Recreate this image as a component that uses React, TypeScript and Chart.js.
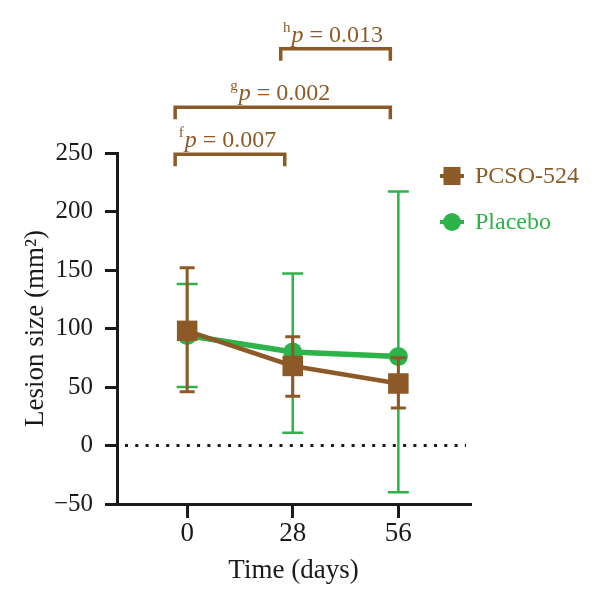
import React, { useEffect, useRef } from "react";
import { Chart, registerables } from "chart.js";
Chart.register(...registerables);

// ---- data ----
const days = [0, 28, 56];
const yTicks = [-50, 0, 50, 100, 150, 200, 250];
const seriesNames = ["PCSO-524", "Placebo"];
const pcsoMean = [98, 68, 53];
const pcsoUpper = [152, 93, 75];
const pcsoLower = [46, 42, 32];
const placeboMean = [94, 80, 76];
const placeboUpper = [138, 147, 217];
const placeboLower = [50, 11, -40];
const bracketFrom = [0, 0, 28];
const bracketTo = [28, 56, 56];
const bracketLevel = [249, 289, 339];
const bracketMarks = ["f", "g", "h"];
const bracketP = ["0.007", "0.002", "0.013"];

const BROWN = "#8c5a26";
const GREEN = "#2db34a";
const INK = "#1a1a1a";
const FONT = '"Liberation Serif", "DejaVu Serif", serif';

const errorBarPlugin = {
  id: "errorBars",
  beforeDatasetDraw(chart: any, args: any) {
    const ds: any = chart.data.datasets[args.index];
    const ys = chart.scales.y;
    const ctx = chart.ctx;
    ctx.save();
    ctx.strokeStyle = ds.borderColor;
    ctx.lineWidth = ds.errWidth;
    const cap = ds.capHalf;
    args.meta.data.forEach((pt: any, i: number) => {
      const x = pt.x;
      const yl = ys.getPixelForValue(ds.errLow[i]);
      const yh = ys.getPixelForValue(ds.errHigh[i]);
      ctx.beginPath();
      ctx.moveTo(x, yl);
      ctx.lineTo(x, yh);
      ctx.moveTo(x - cap, yl);
      ctx.lineTo(x + cap, yl);
      ctx.moveTo(x - cap, yh);
      ctx.lineTo(x + cap, yh);
      ctx.stroke();
    });
    ctx.restore();
  },
};

const decorPlugin = {
  id: "decor",
  beforeDatasetsDraw(chart: any) {
    const { ctx, chartArea } = chart;
    const y0 = chart.scales.y.getPixelForValue(0);
    ctx.save();
    ctx.strokeStyle = INK;
    ctx.lineWidth = 3;
    ctx.setLineDash([3, 7.3]);
    ctx.beginPath();
    ctx.moveTo(chartArea.left + 8, y0);
    ctx.lineTo(chartArea.right - 4, y0);
    ctx.stroke();
    ctx.restore();
  },
  afterDraw(chart: any) {
    const { ctx, chartArea } = chart;
    const xs = chart.scales.x;
    const ys = chart.scales.y;
    ctx.save();
    // brackets
    for (let i = 0; i < bracketFrom.length; i++) {
      const xl = xs.getPixelForValue(bracketFrom[i]) - 12;
      const xr = xs.getPixelForValue(bracketTo[i]) - 8;
      const yb = ys.getPixelForValue(bracketLevel[i]);
      ctx.strokeStyle = BROWN;
      ctx.lineWidth = 3.5;
      ctx.lineCap = "butt";
      ctx.beginPath();
      ctx.moveTo(xl, yb + 12);
      ctx.lineTo(xl, yb);
      ctx.lineTo(xr, yb);
      ctx.lineTo(xr, yb + 12);
      ctx.stroke();
      // label
      const supFont = `15px ${FONT}`;
      const pFont = `italic 24px ${FONT}`;
      const restFont = `24px ${FONT}`;
      const rest = ` = ${bracketP[i]}`;
      ctx.font = supFont;
      const w1 = ctx.measureText(bracketMarks[i]).width;
      ctx.font = pFont;
      const w2 = ctx.measureText("p").width;
      ctx.font = restFont;
      const w3 = ctx.measureText(rest).width;
      let x = (xl + xr) / 2 - (w1 + w2 + w3) / 2 - 3;
      const base = yb - 7;
      ctx.fillStyle = BROWN;
      ctx.textBaseline = "alphabetic";
      ctx.textAlign = "left";
      ctx.font = supFont;
      ctx.fillText(bracketMarks[i], x, base - 10);
      x += w1 + 1;
      ctx.font = pFont;
      ctx.fillText("p", x, base);
      x += w2;
      ctx.font = restFont;
      ctx.fillText(rest, x, base);
    }
    // legend
    const colors = [BROWN, GREEN];
    for (let i = 0; i < seriesNames.length; i++) {
      const cy = chartArea.top + 23 + i * 46;
      const cx = chartArea.right - 18;
      ctx.strokeStyle = colors[i];
      ctx.fillStyle = colors[i];
      ctx.lineWidth = 4;
      ctx.beginPath();
      ctx.moveTo(cx - 12, cy);
      ctx.lineTo(cx + 12, cy);
      ctx.stroke();
      if (i === 0) {
        ctx.fillRect(cx - 8.5, cy - 9, 17, 18);
      } else {
        ctx.beginPath();
        ctx.arc(cx, cy, 9, 0, Math.PI * 2);
        ctx.fill();
      }
      ctx.font = `24px ${FONT}`;
      ctx.textBaseline = "middle";
      ctx.textAlign = "left";
      ctx.fillText(seriesNames[i], cx + 23, cy + 1);
    }
    ctx.restore();
  },
};

export default function App() {
  const ref = useRef<HTMLCanvasElement>(null);
  useEffect(() => {
    const chart = new Chart(ref.current as HTMLCanvasElement, {
      type: "line",
      data: {
        datasets: [
          {
            label: seriesNames[0],
            data: days.map((d, i) => ({ x: d, y: pcsoMean[i] })),
            borderColor: BROWN,
            backgroundColor: BROWN,
            borderWidth: 4.5,
            pointStyle: "rect",
            pointRadius: 14.5,
            pointBorderWidth: 0,
            pointHoverRadius: 14.5,
            errLow: pcsoLower,
            errHigh: pcsoUpper,
            errWidth: 3,
            capHalf: 7.5,
          } as any,
          {
            label: seriesNames[1],
            data: days.map((d, i) => ({ x: d, y: placeboMean[i] })),
            borderColor: GREEN,
            backgroundColor: GREEN,
            borderWidth: 5.5,
            pointStyle: "circle",
            pointRadius: 9.5,
            pointBorderWidth: 0,
            pointHoverRadius: 9.5,
            errLow: placeboLower,
            errHigh: placeboUpper,
            errWidth: 2.5,
            capHalf: 10.5,
          } as any,
        ],
      },
      options: {
        responsive: false,
        animation: false,
        events: [],
        layout: { padding: { top: 153, right: 130, left: 0, bottom: 0 } },
        plugins: { legend: { display: false }, tooltip: { enabled: false } },
        scales: {
          x: {
            type: "linear",
            min: -18.6,
            max: 75,
            afterBuildTicks: (s: any) => {
              s.ticks = days.map((v) => ({ value: v }));
            },
            afterFit: (s: any) => {
              s.height = 103;
            },
            ticks: {
              color: INK,
              font: { family: FONT, size: 27 },
              padding: 0,
              callback: (v: any) => String(v),
              maxRotation: 0,
            },
            grid: { drawOnChartArea: false, drawTicks: true, tickLength: 14, color: INK, lineWidth: 3 },
            border: { display: true, color: INK, width: 3 },
            title: {
              display: true,
              text: "Time (days)",
              color: INK,
              font: { family: FONT, size: 27 },
              padding: { top: 0, bottom: 20 },
            },
          },
          y: {
            type: "linear",
            min: -50,
            max: 250,
            afterBuildTicks: (s: any) => {
              s.ticks = yTicks.map((v) => ({ value: v }));
            },
            afterFit: (s: any) => {
              s.width = 117;
            },
            ticks: {
              color: INK,
              font: { family: FONT, size: 25 },
              padding: 12,
              callback: (v: any) => (v < 0 ? "\u2212" + Math.abs(v) : String(v)),
            },
            grid: { drawOnChartArea: false, drawTicks: true, tickLength: 12, color: INK, lineWidth: 3 },
            border: { display: true, color: INK, width: 3 },
            title: {
              display: true,
              text: "Lesion size (mm\u00b2)",
              color: INK,
              font: { family: FONT, size: 27 },
              padding: { top: 20, bottom: 0 },
            },
          },
        },
      } as any,
      plugins: [errorBarPlugin, decorPlugin],
    });
    return () => chart.destroy();
  }, []);
  return (
    <div style={{ position: "fixed", left: 0, top: 0, width: 600, height: 607, background: "#fff" }}>
      <canvas ref={ref} width={600} height={607} style={{ width: 600, height: 607, display: "block" }} />
    </div>
  );
}
